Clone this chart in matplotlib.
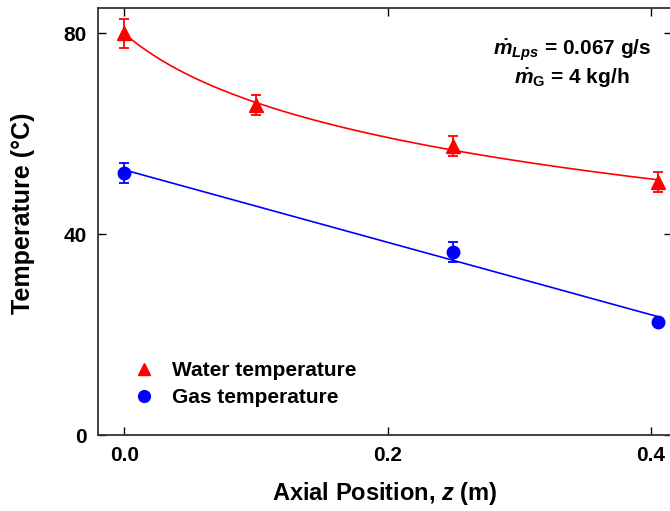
import numpy as np
import matplotlib
matplotlib.use('Agg')
import matplotlib.pyplot as plt
from matplotlib.lines import Line2D

# measured points
z_water = [0.0, 0.1, 0.25, 0.405]
t_water = [80.0, 65.7, 57.6, 50.3]
err_water = [2.9, 2.0, 2.0, 2.0]

z_gas = [0.0, 0.25, 0.405]
t_gas = [52.1, 36.5, 22.5]
err_gas = [2.0, 2.0, 0.0]

xticks = [0.0, 0.2, 0.4]
yticks = [0, 40, 80]

plt.rcParams['font.family'] = ['Liberation Sans', 'DejaVu Sans']
plt.rcParams['font.weight'] = 'bold'
plt.rcParams['mathtext.fontset'] = 'custom'
plt.rcParams['mathtext.rm'] = 'Liberation Sans:bold'
plt.rcParams['mathtext.it'] = 'Liberation Sans:italic:bold'
plt.rcParams['mathtext.bf'] = 'Liberation Sans:bold'


def log_fit(x, y):
    # a + b*ln(x + x0), grid search on x0, linear least squares for a, b
    x = np.asarray(x)
    y = np.asarray(y)
    best = None
    for x0 in np.linspace(0.05, 1.0, 1000):
        A = np.column_stack([np.ones_like(x), np.log(x + x0)])
        coef = np.linalg.lstsq(A, y, rcond=None)[0]
        r = np.sum((A @ coef - y) ** 2)
        if best is None or r < best[0]:
            best = (r, coef[0], coef[1], x0)
    return best[1:]


fig = plt.figure(figsize=(6.7, 5.11), dpi=100)
ax = fig.add_axes([98 / 670, 76 / 511, 574 / 670, 427 / 511])

a, b, x0 = log_fit(z_water, t_water)
zz = np.linspace(0.0, max(z_water), 200)
ax.plot(zz, a + b * np.log(zz + x0), '-', color='#ff0000', lw=1.2)

p = np.polyfit(z_gas, t_gas, 1)
zg = np.linspace(0.0, max(z_gas), 50)
ax.plot(zg, np.polyval(p, zg), '-', color='#0000ff', lw=1.2)

ax.errorbar(z_water, t_water, yerr=err_water, fmt='^', color='#ff0000',
            ms=10, capsize=3.5, elinewidth=1.3, capthick=1.3)
ax.errorbar(z_gas, t_gas, yerr=err_gas, fmt='o', color='#0000ff',
            ms=9, capsize=3.5, elinewidth=1.3, capthick=1.3)

ax.set_xlim(-0.02, 0.416)
ax.set_ylim(0, 85)
ax.set_xticks(xticks)
ax.set_yticks(yticks)
ax.set_xticklabels(['%.1f' % v for v in xticks])
ax.tick_params(direction='in', length=6, width=1.0, labelsize=15,
               top=True, right=True, pad=8)
for s in ax.spines.values():
    s.set_linewidth(1.3)
    s.set_color('#333333')

ax.set_xlabel(r'Axial Position, $\mathit{z}$ (m)', fontsize=17,
              fontweight='bold', labelpad=11)
ax.set_ylabel('Temperature (°C)', fontsize=18, fontweight='bold')
ax.yaxis.set_label_coords(-0.11, 0.52)

ax.text(0.826, 0.90, r'$\dot{m}_{Lps}$ = 0.067 g/s', transform=ax.transAxes,
        ha='center', va='center', fontsize=15)
ax.text(0.826, 0.835, r'$\dot{m}_{\mathrm{G}}$ = 4 kg/h', transform=ax.transAxes,
        ha='center', va='center', fontsize=15)

handles = [
    Line2D([], [], ls='none', marker='^', ms=9, color='#ff0000'),
    Line2D([], [], ls='none', marker='o', ms=8.5, color='#0000ff'),
]
ax.legend(handles, ['Water temperature', 'Gas temperature'],
          loc='lower left', bbox_to_anchor=(-0.01, -0.032), frameon=False,
          fontsize=15, handlelength=1.0, handletextpad=0.85,
          labelspacing=0.36, borderaxespad=1.6)

fig.savefig('out.png', dpi=100)
